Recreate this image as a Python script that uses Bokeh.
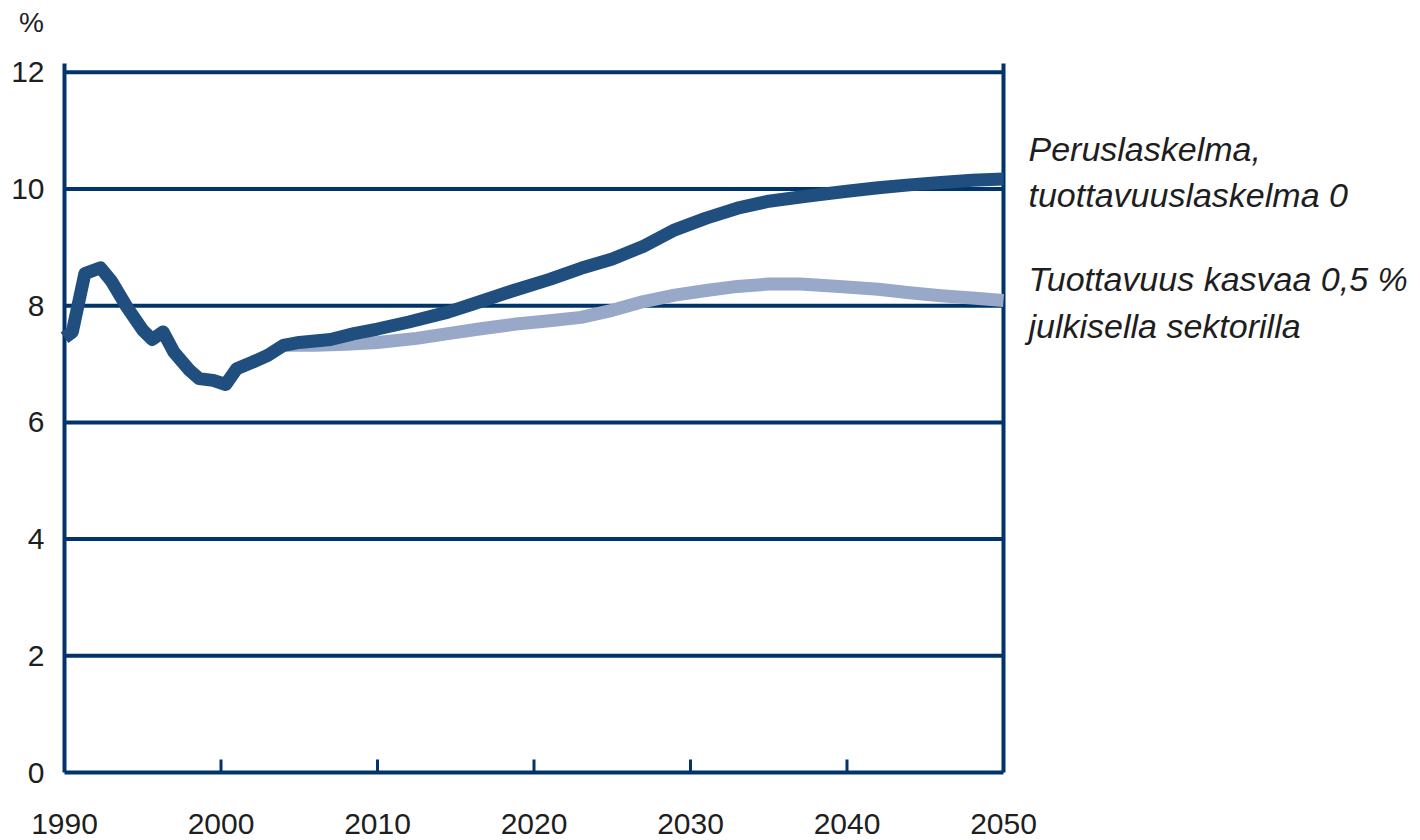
from bokeh.plotting import figure
from bokeh.models import Range1d, Label
from bokeh.core.properties import value
from bokeh.embed import file_html
from bokeh.resources import INLINE

# Data
base_years = [1990, 1990.5, 1991.3, 1992.3, 1993, 1994, 1995, 1995.6, 1996.3, 1997, 1998,
              1998.6, 1999.5, 2000.3, 2001, 2002, 2003, 2004, 2005, 2007, 2008.5, 2010,
              2012, 2014.5, 2016, 2018.7, 2021, 2023, 2025, 2027, 2029, 2031, 2033, 2035,
              2037.5, 2040, 2042, 2044, 2046, 2048, 2050]
base_values = [7.45, 7.55, 8.55, 8.65, 8.42, 7.97, 7.58, 7.42, 7.55, 7.2, 6.89,
               6.75, 6.72, 6.65, 6.92, 7.03, 7.15, 7.32, 7.37, 7.42, 7.52, 7.6,
               7.72, 7.89, 8.02, 8.26, 8.45, 8.64, 8.8, 9.02, 9.3, 9.5, 9.67, 9.79,
               9.88, 9.96, 10.02, 10.07, 10.11, 10.15, 10.17]

alt_years = [2004, 2006, 2008, 2010, 2012.5, 2014.5, 2016.5, 2018.7, 2021, 2023, 2025,
             2027, 2029, 2031, 2033, 2035, 2037, 2039.5, 2042, 2044, 2046, 2048, 2050]
alt_values = [7.32, 7.32, 7.34, 7.37, 7.44, 7.52, 7.6, 7.68, 7.74, 7.8, 7.92,
              8.07, 8.18, 8.26, 8.33, 8.37, 8.37, 8.33, 8.28, 8.22, 8.17, 8.13, 8.09]

x_ticks = [1990, 2000, 2010, 2020, 2030, 2040, 2050]
x_tick_labels = ["1990", "2000", "2010", "2020", "2030", "2040", "2050"]
y_ticks = [0, 2, 4, 6, 8, 10, 12]
y_tick_labels = ["0", "2", "4", "6", "8", "10", "12"]
y_top = 12.15

series_labels = [["Peruslaskelma,", "tuottavuuslaskelma 0"],
                 ["Tuottavuus kasvaa 0,5 %", "julkisella sektorilla"]]
unit_label = "%"

NAVY = "#00346a"
DARK = "#1f4e7f"
LIGHT = "#98a8c8"
TXT = "#1e1e1e"
FONT = "Liberation Sans"

W, H = 1412, 840
LEFT_PX, RIGHT_PX = 64, 1003      # screen x of first / last year
TOP_PX, BOTTOM_PX = 63, 772       # screen y of y_top / 0

x0, x1 = x_ticks[0], x_ticks[-1]
ppx = (RIGHT_PX - LEFT_PX) / (x1 - x0)
ppy = (BOTTOM_PX - TOP_PX) / y_top

def sx(px):
    return x0 + (px - LEFT_PX) / ppx

def sy(py):
    return (BOTTOM_PX - py) / ppy

p = figure(width=W, height=H, output_backend="svg", toolbar_location=None,
           x_range=Range1d(sx(0), sx(W)), y_range=Range1d(sy(H), sy(0)))
p.min_border_left = 0
p.min_border_right = 0
p.min_border_top = 0
p.min_border_bottom = 0
p.outline_line_color = None
p.background_fill_color = "white"
p.border_fill_color = "white"
p.xaxis.visible = False
p.yaxis.visible = False
p.xgrid.grid_line_color = None
p.ygrid.grid_line_color = None

# gridlines (incl. bottom axis at 0) and vertical borders
p.segment(x0=[x0] * len(y_ticks), y0=y_ticks, x1=[x1] * len(y_ticks), y1=y_ticks,
          line_color=NAVY, line_width=4)
p.segment(x0=[x0, x1], y0=[0, 0], x1=[x0, x1], y1=[y_top, y_top],
          line_color=NAVY, line_width=4)
# inward tick marks on the bottom axis
inner = x_ticks[1:-1]
tick_len = 13 / ppy
p.segment(x0=inner, y0=[0] * len(inner), x1=inner, y1=[tick_len] * len(inner),
          line_color=NAVY, line_width=3)

# tick labels
p.text(x=x_ticks, y=[sy(823)] * len(x_ticks), text=x_tick_labels,
       text_font=value(FONT), text_font_size=value("30px"), text_color=TXT,
       text_align="center", text_baseline="middle")
p.text(x=[sx(44)] * len(y_ticks), y=y_ticks, text=y_tick_labels,
       text_font=value(FONT), text_font_size=value("30px"), text_color=TXT,
       text_align="right", text_baseline="middle")

# lines
p.line(alt_years, alt_values, line_color=LIGHT, line_width=13, line_join="round")
p.line(base_years, base_values, line_color=DARK, line_width=13, line_join="round")

# % label
p.add_layout(Label(x=sx(31), y=sy(22), text=unit_label, text_font=FONT,
                   text_font_size="28px", text_color=TXT,
                   text_align="center", text_baseline="middle"))

# series labels
label_px = [[148, 194], [278, 325]]
for lines, ys in zip(series_labels, label_px):
    for t, yy in zip(lines, ys):
        p.add_layout(Label(x=sx(1028), y=sy(yy), text=t, text_font=FONT,
                           text_font_size="34px", text_font_style="italic",
                           text_color=TXT, text_align="left",
                           text_baseline="middle"))

open("out.html", "w").write(file_html(p, INLINE))
